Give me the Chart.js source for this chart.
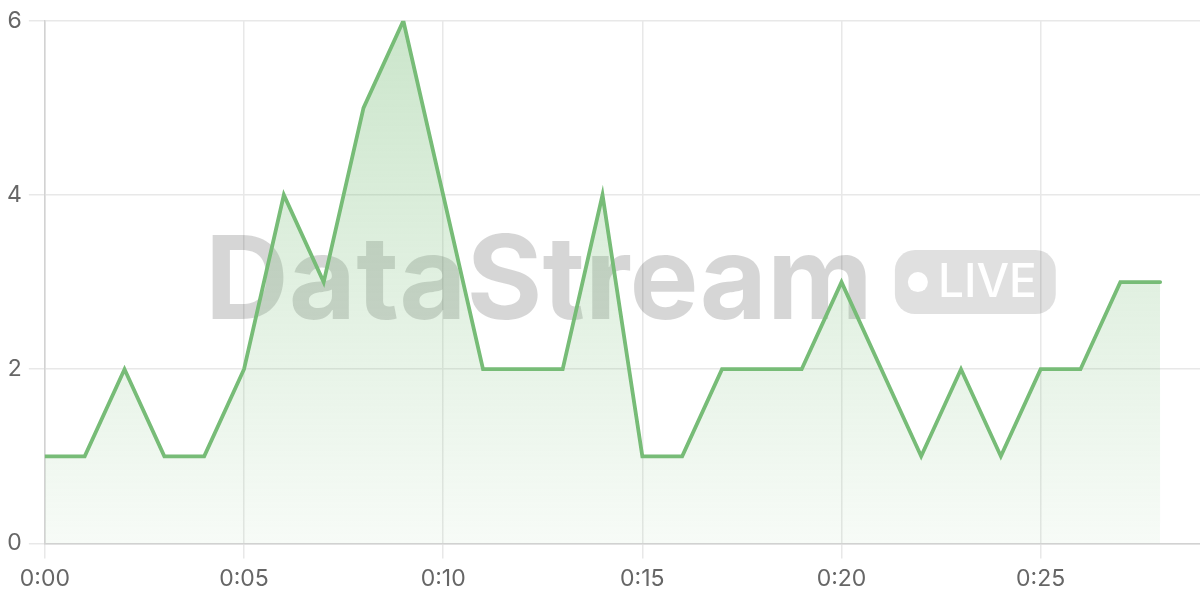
<!DOCTYPE html>
<html>
<head>
<meta charset="utf-8">
<title>DataStream</title>
<script src="https://cdn.jsdelivr.net/npm/chart.js@4/dist/chart.umd.min.js"></script>
<style>
  html, body { margin: 0; padding: 0; background: #fff; }
  .wrap { width: 1200px; height: 600px; position: relative; }
</style>
</head>
<body>
<div class="wrap"><canvas id="streamChart"></canvas></div>
<script>
  // === Data ===
  const timeLabels = [
    '0:00', '0:01', '0:02', '0:03', '0:04', '0:05', '0:06', '0:07', '0:08', '0:09',
    '0:10', '0:11', '0:12', '0:13', '0:14', '0:15', '0:16', '0:17', '0:18', '0:19',
    '0:20', '0:21', '0:22', '0:23', '0:24', '0:25', '0:26', '0:27', '0:28'
  ];
  const eventCounts = [1, 1, 2, 1, 1, 2, 4, 3, 5, 6, 4, 2, 2, 2, 4, 1, 1, 2, 2, 2, 3, 2, 1, 2, 1, 2, 2, 3, 3];
  const yTicks = [0, 2, 4, 6];

  const FONT = 'Inter, "Liberation Sans", sans-serif';

  // === Watermark (drawn under the line, over the grid) ===
  const watermark = {
    id: 'watermark',
    beforeDatasetsDraw(chart) {
      const { ctx, chartArea } = chart;
      const cx = (chartArea.left + chartArea.right) / 2;
      const cy = (chartArea.top + chartArea.bottom) / 2;

      ctx.save();
      ctx.font = '700 116px ' + FONT;
      const brandW = ctx.measureText('DataStream').width;
      ctx.font = '500 46px ' + FONT;
      const liveW = ctx.measureText('LIVE').width;

      const gap = 22;
      const badgeW = liveW + 62;
      const badgeH = 64;
      const totalW = brandW + gap + badgeW;
      let x = cx - totalW / 2 + 8;

      ctx.fillStyle = 'rgba(0,0,0,0.16)';
      ctx.font = '700 116px ' + FONT;
      ctx.textAlign = 'left';
      ctx.textBaseline = 'middle';
      ctx.fillText('DataStream', x, cy + 2);

      // LIVE badge
      const bx = x + brandW + gap;
      const by = cy - badgeH / 2;
      ctx.fillStyle = 'rgba(0,0,0,0.12)';
      ctx.beginPath();
      ctx.roundRect(bx, by, badgeW, badgeH, 20);
      ctx.fill();

      ctx.fillStyle = '#ffffff';
      ctx.beginPath();
      ctx.arc(bx + 23, cy, 10, 0, Math.PI * 2);
      ctx.fill();
      ctx.font = '500 46px ' + FONT;
      ctx.fillText('LIVE', bx + 43, cy + 1);
      ctx.restore();
    }
  };

  function greenFill(context) {
    const area = context.chart.chartArea;
    if (!area) return 'rgba(118,188,118,0.2)';
    const g = context.chart.ctx.createLinearGradient(0, area.top, 0, area.bottom);
    g.addColorStop(0, 'rgba(118,188,118,0.38)');
    g.addColorStop(1, 'rgba(118,188,118,0.06)');
    return g;
  }

  new Chart(document.getElementById('streamChart'), {
    type: 'line',
    data: {
      datasets: [{
        label: 'Events',
        data: eventCounts.map((v, i) => ({ x: i, y: v })),
        borderColor: '#77bc77',
        borderWidth: 3.8,
        backgroundColor: greenFill,
        fill: 'origin',
        tension: 0,
        pointRadius: 0,
        borderCapStyle: 'round'
      }]
    },
    options: {
      responsive: true,
      maintainAspectRatio: false,
      animation: false,
      layout: { padding: { top: 9, right: 0, left: 0, bottom: 0 } },
      plugins: {
        legend: { display: false },
        tooltip: { enabled: false }
      },
      scales: {
        x: {
          type: 'linear',
          min: 0,
          max: 29,
          ticks: {
            stepSize: 5,
            color: '#666',
            font: { size: 23, family: FONT },
            padding: 7,
            maxRotation: 0,
            callback: (v) => timeLabels[v]
          },
          grid: { color: '#e8e8e8', tickLength: 15, lineWidth: 1.5 },
          border: { color: '#d2d2d2', width: 1.5 }
        },
        y: {
          min: 0,
          max: 6,
          afterBuildTicks: (scale) => { scale.ticks = yTicks.map(v => ({ value: v })); },
          ticks: {
            color: '#666',
            font: { size: 23, family: FONT },
            padding: 7
          },
          grid: { color: '#e8e8e8', tickLength: 16, lineWidth: 1.5 },
          border: { color: '#d2d2d2', width: 1.5 }
        }
      }
    },
    plugins: [watermark]
  });
</script>
</body>
</html>
